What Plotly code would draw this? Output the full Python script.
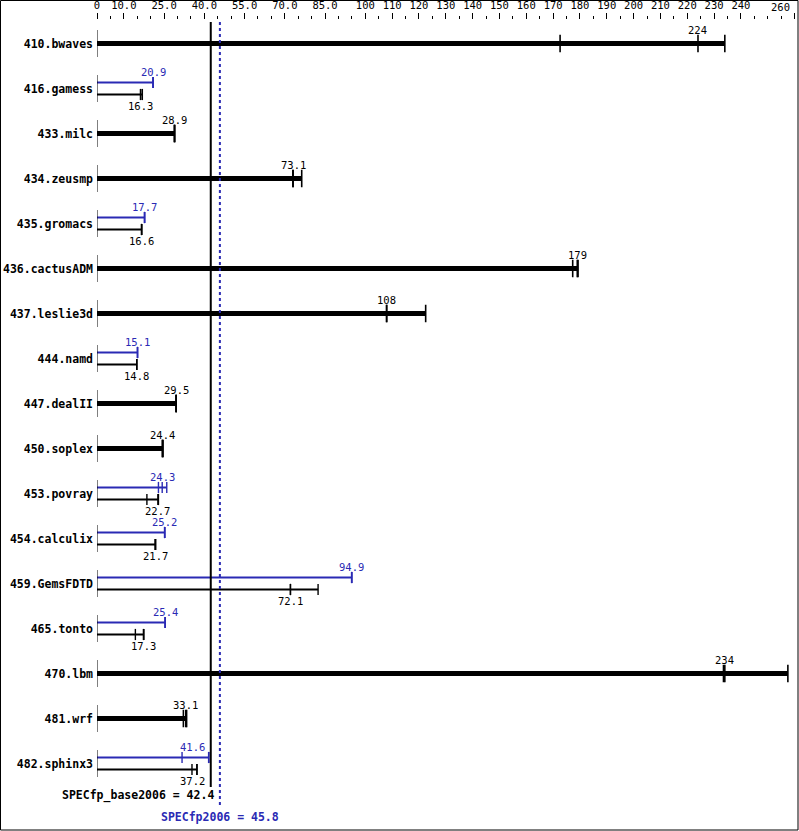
import plotly.graph_objects as go

# ---------------- data ----------------
benchmarks = ["410.bwaves", "416.gamess", "433.milc", "434.zeusmp", "435.gromacs",
              "436.cactusADM", "437.leslie3d", "444.namd", "447.dealII", "450.soplex",
              "453.povray", "454.calculix", "459.GemsFDTD", "465.tonto", "470.lbm",
              "481.wrf", "482.sphinx3"]

# per-run ratios (three runs each); median is the labelled value
base_runs = [
    [172.6, 224, 234.0],
    [16.2, 16.3, 16.9],
    [28.9, 28.9, 28.9],
    [73.0, 73.1, 76.3],
    [16.6, 16.6, 16.7],
    [177.3, 179, 179.3],
    [107.9, 108, 122.5],
    [14.8, 14.8, 14.8],
    [29.5, 29.5, 29.5],
    [24.4, 24.4, 24.6],
    [18.6, 22.7, 22.9],
    [21.7, 21.7, 21.9],
    [72.1, 72.1, 82.4],
    [14.3, 17.3, 17.5],
    [233.5, 234, 257.5],
    [32.2, 33.1, 33.4],
    [35.4, 37.2, 37.3],
]
base_labels = ["224", "16.3", "28.9", "73.1", "16.6", "179", "108", "14.8", "29.5", "24.4",
               "22.7", "21.7", "72.1", "17.3", "234", "33.1", "37.2"]

peak_runs = [
    None,
    [20.9, 20.9, 20.9],
    None,
    None,
    [17.7, 17.7, 17.8],
    None,
    None,
    [15.1, 15.1, 15.1],
    None,
    None,
    [22.9, 24.3, 26.0],
    [25.2, 25.2, 25.3],
    [94.9, 94.9, 95.0],
    [25.4, 25.4, 25.4],
    None,
    None,
    [31.7, 41.6, 41.7],
]
peak_labels = [None, "20.9", None, None, "17.7", None, None, "15.1", None, None,
               "24.3", "25.2", "94.9", "25.4", None, None, "41.6"]

SPECFP_BASE = 42.4
SPECFP_PEAK = 45.8

x_tick_vals = [0, 10, 25, 40, 55, 70, 85, 100, 110, 120, 130, 140, 150, 160, 170,
               180, 190, 200, 210, 220, 230, 240, 260]
x_tick_text = ["0", "10.0", "25.0", "40.0", "55.0", "70.0", "85.0", "100", "110", "120",
               "130", "140", "150", "160", "170", "180", "190", "200", "210", "220",
               "230", "240", "260"]

# ---------------- layout constants ----------------
W, H = 799, 831
ML, MR, MT, MB = 97, 4, 20, 0
PX_PER_UNIT = 2.683
PLOT_W = W - ML - MR
X_MAX = PLOT_W / PX_PER_UNIT
ROW0, ROWSTEP = 43.5, 45.0
BLACK = "#000000"
BLUE = "#2a2ab4"
MONO = "DejaVu Sans Mono"

# the last tick label is drawn right-aligned inside the frame (as an annotation)
tick_text_rendered = list(x_tick_text)
tick_text_rendered[-1] = ""

fig = go.Figure()
annotations = []
shapes = []

annotations.append(dict(text=x_tick_text[-1], x=x_tick_vals[-1], xref="x",
                        xanchor="right", xshift=-3, yref="paper", y=1, yanchor="middle",
                        yshift=13, showarrow=False,
                        font=dict(family=MONO, size=10.5, color=BLACK)))

def label_anchor(value, text):
    """Return annotation x placement; keep labels off the base mean line."""
    half = len(text) * 6.0 / 2
    c = value * PX_PER_UNIT
    b = SPECFP_BASE * PX_PER_UNIT
    if c + half > b - 3 and c - half < b + 3:
        return dict(x=SPECFP_BASE, xanchor="right", xshift=-4)
    return dict(x=value, xanchor="center", xshift=0)

for i, name in enumerate(benchmarks):
    yc = ROW0 + ROWSTEP * i
    # left axis segment for the row
    shapes.append(dict(type="line", xref="x", yref="y", x0=0, x1=0,
                       y0=yc - 13.5, y1=yc + 13.5, line=dict(color=BLACK, width=1)))
    b = base_runs[i]
    p = peak_runs[i]
    if p is None:
        # base-only: thick bar
        fig.add_trace(go.Scatter(x=[0, max(b)], y=[yc, yc], mode="lines",
                                 line=dict(color=BLACK, width=5), hoverinfo="skip"))
        fig.add_trace(go.Scatter(x=b, y=[yc] * len(b), mode="markers",
                                 marker=dict(symbol="line-ns", size=12.5,
                                             line=dict(color=BLACK, width=1.6)),
                                 hoverinfo="skip"))
        med = sorted(b)[1]
        pos = label_anchor(med, base_labels[i])
        annotations.append(dict(text=base_labels[i], y=yc - 13.5, yanchor="middle",
                                showarrow=False, font=dict(family=MONO, size=10.5, color=BLACK),
                                **pos))
    else:
        yp, yb = yc - 6, yc + 6
        for runs, yy, col, lab, dy in ((p, yp, BLUE, peak_labels[i], -11),
                                       (b, yb, BLACK, base_labels[i], 11.5)):
            fig.add_trace(go.Scatter(x=[0, max(runs)], y=[yy, yy], mode="lines",
                                     line=dict(color=col, width=2), hoverinfo="skip"))
            fig.add_trace(go.Scatter(x=runs, y=[yy] * len(runs), mode="markers",
                                     marker=dict(symbol="line-ns", size=8,
                                                 line=dict(color=col, width=1.4)),
                                     hoverinfo="skip"))
            med = sorted(runs)[1]
            pos = label_anchor(med, lab)
            annotations.append(dict(text=lab, y=yy + dy, yanchor="middle",
                                    showarrow=False, font=dict(family=MONO, size=10.5, color=col),
                                    **pos))

# mean lines
fig.add_trace(go.Scatter(x=[SPECFP_BASE, SPECFP_BASE], y=[22, 787], mode="lines",
                         line=dict(color=BLACK, width=2), hoverinfo="skip"))
fig.add_trace(go.Scatter(x=[SPECFP_PEAK, SPECFP_PEAK], y=[22, 807], mode="lines",
                         line=dict(color=BLUE, width=2, dash="dot"), hoverinfo="skip"))

annotations.append(dict(text="<b>SPECfp_base2006 = %.1f</b>" % SPECFP_BASE,
                        x=SPECFP_BASE, xanchor="right", xshift=5, y=795, yanchor="middle",
                        showarrow=False, font=dict(family=MONO, size=11.5, color=BLACK)))
annotations.append(dict(text="<b>SPECfp2006 = %.1f</b>" % SPECFP_PEAK,
                        x=SPECFP_PEAK, xanchor="center", y=817, yanchor="middle",
                        showarrow=False, font=dict(family=MONO, size=11.5, color=BLUE)))

# outer border (paper coordinates)
def px_to_paper_x(px):
    return (px - ML) / PLOT_W

def px_to_paper_y(py):
    return (H - MB - py) / (H - MT - MB)

shapes.append(dict(type="rect", xref="paper", yref="paper",
                   x0=px_to_paper_x(0.5), x1=px_to_paper_x(798),
                   y0=px_to_paper_y(830), y1=px_to_paper_y(0.5),
                   line=dict(color=BLACK, width=1)))

fig.update_layout(
    width=W, height=H,
    margin=dict(l=ML, r=MR, t=MT, b=MB, pad=0, autoexpand=False),
    paper_bgcolor="white", plot_bgcolor="white",
    showlegend=False, hovermode=False,
    annotations=annotations, shapes=shapes,
    xaxis=dict(side="top", range=[0, X_MAX], autorange=False, automargin=False,
               tickmode="array", tickvals=x_tick_vals, ticktext=tick_text_rendered,
               ticks="outside", ticklen=6, tickwidth=1, tickcolor=BLACK,
               minor=dict(tickmode="linear", tick0=0, dtick=5, ticks="outside",
                          ticklen=3, tickwidth=1, tickcolor=BLACK, showgrid=False),
               showgrid=False, zeroline=False, showline=False,
               tickfont=dict(family=MONO, size=10.5, color=BLACK)),
    yaxis=dict(range=[H - MB, MT], autorange=False, automargin=False,
               tickmode="array",
               tickvals=[ROW0 + ROWSTEP * i for i in range(len(benchmarks))],
               ticktext=benchmarks, ticks="", ticklabelstandoff=3,
               showgrid=False, zeroline=False, showline=False,
               tickfont=dict(family=MONO, size=11.5, color=BLACK, weight="bold")),
)

fig.write_html("out.html", config={"displayModeBar": False},
               post_script="document.body.style.margin='0px';"
                           "document.body.style.padding='0px';"
                           "document.body.style.overflow='hidden';")
